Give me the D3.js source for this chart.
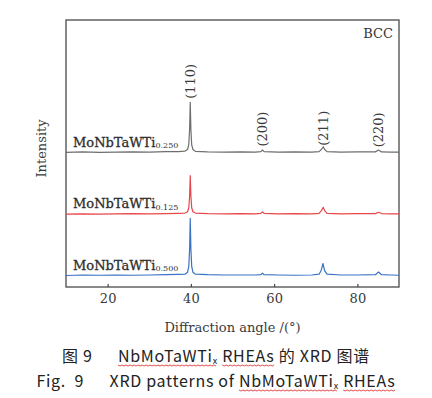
<!DOCTYPE html>
<html>
<head>
<meta charset="utf-8">
<script src="https://cdn.jsdelivr.net/npm/d3@7"></script>
<style>
  body { margin: 0; background: #fff; }
  svg { display: block; }
</style>
</head>
<body>
<script>
// XRD patterns (angle in deg, intensity in arbitrary units above each baseline)
const xrd250 = [[10,0.2],[14,0.4],[18,0.2],[22,0.3],[26,0.4],[30,0.3],[34,0.5],[37,0.5],[38.6,0.7],[39.2,1.3],[39.5,3.2],[39.7,9],[39.85,19],[40.0,9],[40.2,3],[40.5,1.3],[41.1,0.6],[44,0.4],[48,0.3],[52,0.4],[55.5,0.3],[56.8,0.5],[57.2,1.1],[57.6,0.5],[61,0.3],[65,0.4],[69,0.3],[70.8,0.5],[71.4,1.4],[71.8,2.3],[72.1,1.4],[72.7,0.5],[76,0.3],[80,0.4],[84.3,0.4],[85.1,1.1],[85.8,0.4],[88,0.3],[90,0.3]];
const xrd125 = [[10,0.1],[14,0.2],[18,0.1],[22,0.2],[26,0.3],[30,0.2],[34,0.3],[37,0.4],[38.6,0.5],[39.2,1],[39.5,2.5],[39.7,7],[39.85,14.5],[40.0,7],[40.2,2.5],[40.5,1],[41.1,0.5],[44,0.3],[48,0.2],[52,0.3],[55.5,0.2],[56.8,0.4],[57.2,0.9],[57.6,0.4],[61,0.2],[65,0.3],[69,0.2],[70.8,0.4],[71.4,1.5],[71.8,2.7],[72.1,1.5],[72.7,0.4],[76,0.2],[80,0.3],[84.3,0.3],[85.1,0.8],[85.8,0.3],[88,0.2],[90,0.2]];
const xrd500 = [[10,0.1],[14,0.3],[18,0.2],[22,0.3],[26,0.2],[30,0.3],[34,0.4],[37,0.5],[38.6,0.6],[39.2,1.3],[39.5,3.5],[39.7,10],[39.85,21.5],[40.0,10],[40.2,3.5],[40.5,1.3],[41.1,0.6],[44,0.4],[48,0.3],[52,0.3],[55.5,0.3],[56.8,0.4],[57.2,1],[57.6,0.4],[61,0.3],[65,0.2],[69,0.3],[70.8,0.6],[71.3,2],[71.75,4.6],[72.1,2],[72.7,0.6],[76,0.3],[80,0.3],[84.3,0.4],[85.1,1.4],[85.8,0.4],[88,0.3],[90,0.2]];

const seriesNames = ['0.250', '0.125', '0.500'];
const seriesData = [xrd250, xrd125, xrd500];
const seriesOffsets = [50.2, 27.2, 4.2];
const seriesColors = ['#6e6e6e', '#e8464a', '#3b72c4'];

const peakLabels = ['(110)', '(200)', '(211)', '(220)'];
const peakAngles = [39.85, 57.2, 71.8, 85.1];
const peakLabelBottom = [70.5, 52.6, 52.9, 52.3];  // intensity units, just above grey trace

const xTicks = [20, 40, 60, 80];

const W = 432, H = 398;
const margin = { top: 20, right: 33, bottom: 111, left: 66 };
const innerW = W - margin.left - margin.right;
const innerH = H - margin.top - margin.bottom;

const svg = d3.select('body').append('svg')
  .attr('width', W)
  .attr('height', H);

const g = svg.append('g')
  .attr('transform', `translate(${margin.left},${margin.top})`);

const x = d3.scaleLinear().domain([10, 90]).range([0, innerW]);
const y = d3.scaleLinear().domain([0, 100]).range([innerH, 0]);

const serif = 'DejaVu Serif, Liberation Serif, serif';

// frame
g.append('rect')
  .attr('width', innerW)
  .attr('height', innerH)
  .attr('fill', 'none')
  .attr('stroke', '#4a4a4a')
  .attr('stroke-width', 1.3);

// bottom axis, ticks point inward
const xAxis = g.append('g')
  .attr('transform', `translate(0,${innerH})`)
  .call(d3.axisBottom(x).tickValues(xTicks).tickSizeInner(-3).tickSizeOuter(0).tickPadding(7));
xAxis.select('.domain').remove();
xAxis.selectAll('line').attr('stroke', '#4a4a4a').attr('stroke-width', 1.2);
xAxis.selectAll('text')
  .attr('fill', '#3a3a3a')
  .style('font-family', serif)
  .style('font-size', '13px');

g.append('text')
  .attr('x', innerW / 2)
  .attr('y', innerH + 45)
  .attr('text-anchor', 'middle')
  .attr('fill', '#3a3a3a')
  .style('font-family', serif)
  .style('font-size', '13px')
  .text('Diffraction angle /(°)');

g.append('text')
  .attr('transform', `translate(-20,${innerH / 2 - 5}) rotate(-90)`)
  .attr('text-anchor', 'middle')
  .attr('fill', '#3a3a3a')
  .style('font-family', serif)
  .style('font-size', '13px')
  .text('Intensity');

// traces
const line = d3.line()
  .x(d => x(d[0]))
  .y(d => y(d[1]));

seriesData.forEach((data, i) => {
  g.append('path')
    .datum(data.map(d => [d[0], d[1] + seriesOffsets[i]]))
    .attr('fill', 'none')
    .attr('stroke', seriesColors[i])
    .attr('stroke-width', 1.2)
    .attr('stroke-linejoin', 'round')
    .attr('d', line);

  const lbl = g.append('text')
    .attr('x', 7)
    .attr('y', y(seriesOffsets[i]) - 6)
    .attr('fill', '#2e2e2e')
    .style('font-family', serif)
    .style('font-size', '13px')
    .style('stroke', '#2e2e2e')
    .style('stroke-width', 0.3);
  lbl.append('tspan').text('MoNbTaWTi');
  lbl.append('tspan')
    .attr('dy', 1.5)
    .style('font-size', '8px')
    .style('stroke-width', 0)
    .text(seriesNames[i]);
});

// peak labels
peakLabels.forEach((t, i) => {
  g.append('text')
    .attr('transform', `translate(${x(peakAngles[i]) + 4.5},${y(peakLabelBottom[i])}) rotate(-90)`)
    .attr('fill', '#3a3a3a')
    .style('font-family', serif)
    .style('font-size', '13px')
    .text(t);
});

g.append('text')
  .attr('x', innerW - 6)
  .attr('y', 18)
  .attr('text-anchor', 'end')
  .attr('fill', '#333')
  .style('font-family', serif)
  .style('font-size', '13px')
  .text('BCC');

// caption
const sans = 'Noto Sans CJK SC, Noto Sans, sans-serif';
const capLines = [
  { y: 362, parts: ['图 9\u2003\u2002', 'NbMoTaWTi', 'x', ' ', 'RHEAs', ' 的 XRD 图谱'] },
  { y: 387, parts: ['Fig.  9\u2003\u2002XRD patterns of ', 'NbMoTaWTi', 'x', ' ', 'RHEAs', ''] }
];

capLines.forEach(c => {
  const t = svg.append('text')
    .attr('x', W / 2)
    .attr('y', c.y)
    .attr('text-anchor', 'middle')
    .attr('fill', '#222')
    .style('font-family', sans)
    .style('font-size', '16px')
    .style('letter-spacing', '0.7px')
    .style('white-space', 'pre');
  c.parts.forEach((p, k) => {
    const s = t.append('tspan').text(p);
    if (k === 2) s.attr('dy', 2).style('font-size', '9px');
    if (k === 3) s.attr('dy', -2);
  });

  // spell-check style wavy underline beneath the alloy name and RHEAs
  const node = t.node();
  const lens = c.parts.map(p => p.length);
  const startOf = k => lens.slice(0, k).reduce((a, b) => a + b, 0);
  [[1, 2], [4, 4]].forEach(([a, b]) => {
    const i0 = startOf(a), i1 = startOf(b) + lens[b] - 1;
    const x0 = node.getStartPositionOfChar(i0).x;
    const x1 = node.getEndPositionOfChar(i1).x;
    const pts = d3.range(x0, x1, 2).map((px, j) => [px, c.y + 3 + (j % 2 ? 1 : 0)]);
    svg.append('path')
      .attr('d', d3.line()(pts))
      .attr('fill', 'none')
      .attr('stroke', '#e02020')
      .attr('stroke-width', 0.8);
  });
});
</script>
</body>
</html>
